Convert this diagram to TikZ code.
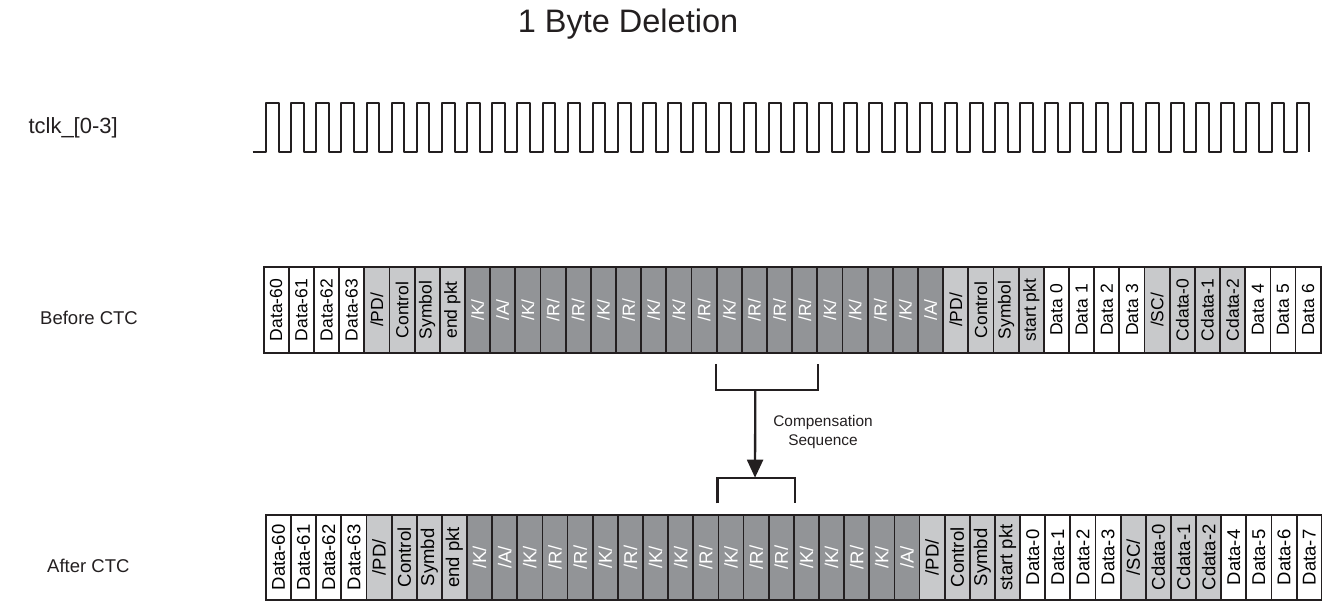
\documentclass[tikz,border=0pt]{standalone}
\usepackage{fontspec}
\setmainfont{Liberation Sans}
\usetikzlibrary{arrows.meta,calc}
\definecolor{ink}{HTML}{231F20}
\definecolor{lightc}{HTML}{C8C9CB}
\definecolor{darkc}{HTML}{929497}
\begin{document}
\begin{tikzpicture}[x=1pt,y=-1pt,
  cellbase/.style={draw=ink,line width=1.8pt,minimum height=86pt,inner sep=0pt,anchor=north west},
  toprow/.style={minimum width=25.17pt,font=\fontsize{17.5}{20}\selectfont},
  botrow/.style={minimum width=25.14pt,minimum height=85pt,font=\fontsize{18.5}{21}\selectfont},
  wcell/.style={cellbase,fill=white,text=black},
  lcell/.style={cellbase,fill=lightc,text=black},
  dcell/.style={cellbase,fill=darkc,text=white},
  clk/.style={draw=ink,line width=2pt,line join=round},
  brk/.style={draw=ink,line width=2.3pt},
  arr/.style={draw=ink,line width=2.3pt,-{Triangle[length=18pt,width=16pt]}},
  lbl/.style={text=ink,inner sep=0pt}
]
\useasboundingbox (0,0) rectangle (1322,601);

% title and row labels
\node[lbl,anchor=base,font=\fontsize{32.5}{36}\selectfont] (title) at (628,32.7) {1 Byte Deletion};
\node[lbl,anchor=base west,font=\fontsize{22}{26}\selectfont] (tclk) at (28.3,133.3) {tclk\_[0-3]};
\node[lbl,anchor=base west,font=\fontsize{18.5}{22}\selectfont] (before) at (40,325) {Before CTC};
\node[lbl,anchor=base west,font=\fontsize{18.5}{22}\selectfont] (after) at (47,572.5) {After CTC};

% clock
\draw[clk] (252.7,151.7)
  \foreach \k in {0,...,41} {
    -- ({266+\k*25.14},151.7) -- ({266+\k*25.14},102.7)
    -- ({278.6+\k*25.14},102.7) -- ({278.6+\k*25.14},151.7)
  };

% before CTC row
\foreach \lab/\sty [count=\i] in {
  Data-60/wcell, Data-61/wcell, Data-62/wcell, Data-63/wcell,
  {/PD/}/lcell, Control/lcell, Symbol/lcell, end pkt/lcell,
  {/K/}/dcell, {/A/}/dcell, {/K/}/dcell, {/R/}/dcell, {/R/}/dcell,
  {/K/}/dcell, {/R/}/dcell, {/K/}/dcell, {/K/}/dcell, {/R/}/dcell,
  {/K/}/dcell, {/R/}/dcell, {/R/}/dcell, {/R/}/dcell, {/K/}/dcell,
  {/K/}/dcell, {/R/}/dcell, {/K/}/dcell, {/A/}/dcell,
  {/PD/}/lcell, Control/lcell, Symbol/lcell, start pkt/lcell,
  Data 0/wcell, Data 1/wcell, Data 2/wcell, Data 3/wcell,
  {/SC/}/lcell, Cdata-0/lcell, Cdata-1/lcell, Cdata-2/lcell,
  Data 4/wcell, Data 5/wcell, Data 6/wcell} {
  \node[\sty,toprow] (t\i) at ({262.7+(\i-1)*25.17},266) {\rotatebox{90}{\lab}};
}

% after CTC row
\foreach \lab/\sty [count=\i] in {
  Data-60/wcell, Data-61/wcell, Data-62/wcell, Data-63/wcell,
  {/PD/}/lcell, Control/lcell, Symbd/lcell, end pkt/lcell,
  {/K/}/dcell, {/A/}/dcell, {/K/}/dcell, {/R/}/dcell, {/R/}/dcell,
  {/K/}/dcell, {/R/}/dcell, {/K/}/dcell, {/K/}/dcell, {/R/}/dcell,
  {/K/}/dcell, {/R/}/dcell, {/R/}/dcell, {/K/}/dcell,
  {/K/}/dcell, {/R/}/dcell, {/K/}/dcell, {/A/}/dcell,
  {/PD/}/lcell, Control/lcell, Symbd/lcell, start pkt/lcell,
  Data-0/wcell, Data-1/wcell, Data-2/wcell, Data-3/wcell,
  {/SC/}/lcell, Cdata-0/lcell, Cdata-1/lcell, Cdata-2/lcell,
  Data-4/wcell, Data-5/wcell, Data-6/wcell, Data-7/wcell} {
  \node[\sty,botrow] (b\i) at ({265+(\i-1)*25.14},514) {\rotatebox{90}{\lab}};
}

% brackets and arrow
\draw[brk] ($(t19.south west)+(0,10)$) |- ($(t22.south east)+(0,36)$) -- ($(t22.south east)+(0,10)$);
\draw[brk] ($(b19.north west)+(0,-10.7)$) |- ($(b21.north east)+(0,-36.3)$) -- ($(b21.north east)+(0,-10.7)$);
\coordinate (as) at ($(t19.south west)+(39.5,36)$);
\coordinate (ae) at ($(b19.north west)+(37.5,-36.3)$);
\draw[arr] (as) -- (ae);
\node[lbl,align=center,font=\fontsize{15.4}{19}\selectfont] (comp) at (823,432) {Compensation\\Sequence};
\end{tikzpicture}
\end{document}
